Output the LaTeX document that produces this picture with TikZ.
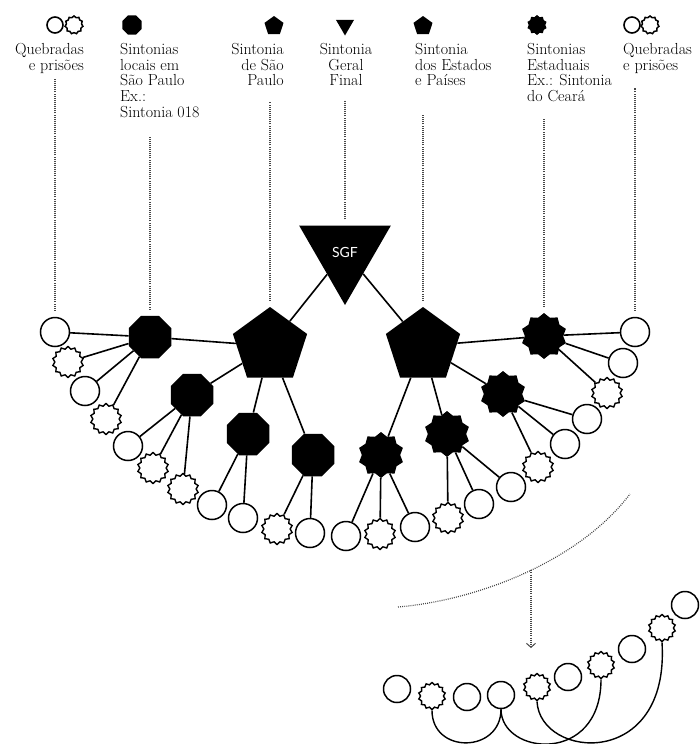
\documentclass[tikz,border=0pt]{standalone}
\usepackage{fontspec}
\usepackage{tikz}
\usetikzlibrary{shapes.geometric, arrows.meta, calc}
\newfontfamily\sgffont{Lato}
\definecolor{dotgray}{RGB}{70,70,70}

\begin{document}
\begin{tikzpicture}[x=1pt, y=-1pt,
    lab/.style={font=\fontsize{16}{15.8}\selectfont, inner sep=0pt},
    hollow/.style={circle, draw, fill=white, line width=1.5pt, minimum size=29pt, inner sep=0pt},
    spiky/.style={star, star points=14, star point ratio=1.18, draw, fill=white, line width=1.4pt, minimum size=31pt, inner sep=0pt},
    octo/.style={regular polygon, regular polygon sides=8, fill=black, minimum size=46pt, inner sep=0pt},
    penta/.style={regular polygon, regular polygon sides=5, fill=black, minimum size=78pt, inner sep=0pt},
    blackstar/.style={star, star points=10, star point ratio=1.2, fill=black, minimum size=46pt, inner sep=0pt},
    trig/.style={regular polygon, regular polygon sides=3, shape border rotate=180, fill=black, inner sep=0pt},
    link/.style={line width=1.6pt},
    guide/.style={draw=dotgray, line width=1.2pt, dash pattern=on 0.9pt off 1.2pt}]
    \useasboundingbox (0,0) rectangle (699,744);

    % Legend icons
    \node[hollow, minimum size=16pt, line width=1.6pt] (iconQa) at (55,25) {};
    \node[spiky, star points=11, minimum size=18pt, line width=1.5pt] (iconQb) at (74,25) {};
    \node[octo, minimum size=21pt] (iconLoc) at (132,25) {};
    \node[penta, minimum size=20pt] (iconSP) at (274,26) {};
    \node[trig, minimum size=21pt] (iconSGF) at (345,25) {};
    \node[penta, minimum size=20pt] (iconEP) at (423,26) {};
    \node[blackstar, minimum size=20pt] (iconEst) at (537,25) {};
    \node[hollow, minimum size=16pt, line width=1.6pt] (iconQc) at (632,25) {};
    \node[spiky, star points=11, minimum size=18pt, line width=1.5pt] (iconQd) at (650,25) {};

    % Legend texts
    \node[lab, anchor=north east, align=right] (qL) at (84,43) {Quebradas\\e prisões};
    \node[lab, anchor=north west, align=left] (locL) at (120,43) {Sintonias\\locais em\\São Paulo\\Ex.:\\Sintonia 018};
    \node[lab, anchor=north east, align=right] (spL) at (284,43) {Sintonia\\de São\\Paulo};
    \node[lab, anchor=north, align=center] (sgfL) at (346,43) {Sintonia\\Geral\\Final};
    \node[lab, anchor=north west, align=left] (epL) at (415,43) {Sintonia\\dos Estados\\e Países};
    \node[lab, anchor=north west, align=left] (estL) at (527,43) {Sintonias\\Estaduais\\Ex.: Sintonia\\do Ceará};
    \node[lab, anchor=north west, align=left] (qR) at (623,43) {Quebradas\\e prisões};

    % Top of the tree
    \node[trig, minimum size=106pt, text=white, font=\sgffont\fontsize{14}{14}\selectfont] (SGF) at (345,252) {SGF};
    \node[penta] (P1) at (270,346) {};
    \node[penta] (P2) at (423,346) {};
    \foreach \n/\x/\y in {A/150/337, B/192/395, C/248/434, D/313/455}
        \node[octo] (\n) at (\x,\y) {};
    \foreach \n/\x/\y in {E/544/336, F/503/394, G/447/434, H/381/455}
        \node[blackstar] (\n) at (\x,\y) {};

    % Leaves
    \foreach \n/\x/\y/\s in {l1/55/332/hollow, l2/68/362/spiky, l3/85/391/hollow, l4/106/419/spiky,
        l5/128/446/hollow, l6/153/468/spiky, l7/183/489/spiky, l8/212/505/hollow, l9/243/518/hollow,
        l10/277/529/spiky, l11/310/533/hollow, l12/346/536/hollow, l13/380/534/spiky, l14/415/527/hollow,
        l15/448/518/spiky, l16/479/504/hollow, l17/511/487/hollow, l18/538/467/spiky, l19/565/444/hollow,
        l20/587/419/hollow, l21/607/393/spiky, l22/623/363/hollow, l23/635/332/hollow}
        \node[\s] (\n) at (\x,\y) {};

    % Links
    \foreach \a/\b in {SGF/P1, SGF/P2, P1/A, P1/B, P1/C, P1/D, P2/E, P2/F, P2/G, P2/H,
        A/l1, A/l2, A/l3, A/l4, B/l5, B/l6, B/l7, C/l8, C/l9, D/l10, D/l11,
        H/l12, H/l13, H/l14, G/l15, G/l16, G/l17, F/l18, F/l19, F/l20, E/l21, E/l22, E/l23}
        \draw[link] (\a) -- (\b);

    % Dotted guides
    \foreach \n/\l/\g in {l1/qL/5, A/locL/19, P1/spL/16, SGF/sgfL/14, P2/epL/28, E/estL/17, l23/qR/14}
        \draw[guide, shorten <=6pt, shorten >=\g pt] (\n.north) -- (\n.north |- \l.south);

    % Curve and drop arrow
    \coordinate (curvL) at (398,607);
    \coordinate (curvR) at (630,494);
    \coordinate (droptip) at (532,648);
    \draw[guide] (curvL) .. controls (480,600) and (580,560) .. (curvR) coordinate[pos=0.52] (drop);
    \draw[guide, -{Straight Barb[length=4pt, width=9pt, line width=1pt]}] (drop) -- (drop |- droptip);

    % Chain
    \foreach \n/\x/\y/\s in {c1/397/689/hollow, s2/432/696/spiky, c3/467/697/hollow, c4/501/695/hollow,
        s5/537/687/spiky, c6/568/677/hollow, s7/601/665/spiky, c8/632/649/hollow, s9/662/628/spiky, c10/685/605/hollow}
        \node[\s, minimum size=27pt] (\n) at (\x,\y) {};

    % Arcs under the chain
    \draw[line width=1.4pt] (s2.south) .. controls +(0,44) and +(0,44) .. (c4.south);
    \draw[line width=1.4pt] (c4.south) .. controls +(0,46) and +(0,86) .. (s7.south);
    \draw[line width=1.4pt] (s5.south) .. controls +(3,58) and +(8,128) .. (s9.south);
\end{tikzpicture}
\end{document}
